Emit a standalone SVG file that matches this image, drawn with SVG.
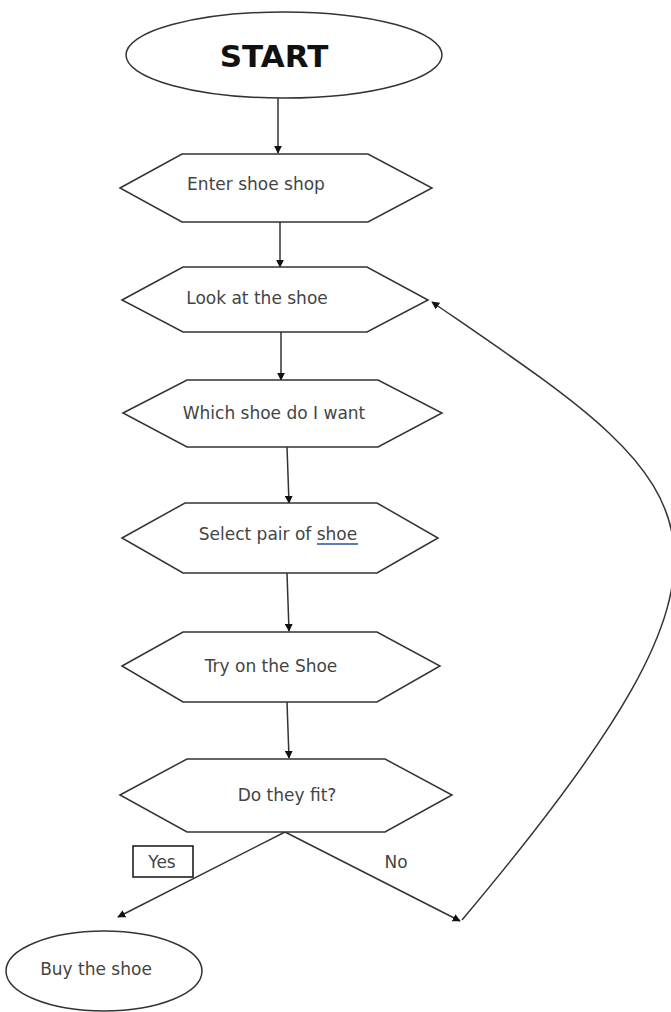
<svg xmlns="http://www.w3.org/2000/svg" width="671" height="1012" viewBox="0 0 671 1012">
<defs>
<style>
.s{fill:#fff;stroke:#333;stroke-width:1.5}
.t{font-family:"DejaVu Sans","Liberation Sans",Arial,sans-serif;font-size:17px;fill:#444;text-anchor:middle}
.c{fill:none;stroke:#333;stroke-width:1.5}
</style>
<marker id="ah" viewBox="0 0 10 10" refX="9" refY="5" markerWidth="8" markerHeight="8" orient="auto" markerUnits="userSpaceOnUse"><path d="M0,0 L10,5 L0,10 z" fill="#111"/></marker>
</defs>
<rect width="671" height="1012" fill="#fff"/>
<g id="connectors">
<line class="c" x1="278" y1="98" x2="278" y2="153" marker-end="url(#ah)"/>
<line class="c" x1="280" y1="222" x2="280" y2="267" marker-end="url(#ah)"/>
<line class="c" x1="281" y1="332" x2="281" y2="380" marker-end="url(#ah)"/>
<line class="c" x1="287" y1="447" x2="289" y2="503" marker-end="url(#ah)"/>
<line class="c" x1="287" y1="573" x2="289" y2="631" marker-end="url(#ah)"/>
<line class="c" x1="287" y1="702" x2="289" y2="758" marker-end="url(#ah)"/>
<line class="c" x1="285" y1="832" x2="118" y2="917" marker-end="url(#ah)"/>
<line class="c" x1="285" y1="832" x2="460" y2="921" marker-end="url(#ah)"/>
<path class="c" d="M462,920 C790,530 705,490 432,302" marker-end="url(#ah)"/>
</g>
<g id="start">
<ellipse class="s" cx="284" cy="55" rx="158" ry="43"/>
<text x="274" y="67" style="font-family:'DejaVu Sans','Liberation Sans',Arial,sans-serif;font-size:31px;font-weight:bold;fill:#111;text-anchor:middle">START</text>
</g>
<g id="enter">
<polygon class="s" points="120,188 182,154 368,154 432,188 368,222 182,222"/>
<text class="t" x="256" y="190">Enter shoe shop</text>
</g>
<g id="look">
<polygon class="s" points="122,300 183,267 367,267 428,300 367,332 183,332"/>
<text class="t" x="257" y="304">Look at the shoe</text>
</g>
<g id="which">
<polygon class="s" points="123,413 187,380 378,380 442,413 378,447 187,447"/>
<text class="t" x="274" y="419">Which shoe do I want</text>
</g>
<g id="select">
<polygon class="s" points="122,538 185,503 377,503 438,538 377,573 183,573"/>
<text class="t" x="278" y="540">Select pair of shoe</text>
<line x1="317" y1="544" x2="358" y2="544" stroke="#2b4f9a" stroke-width="1.5"/>
</g>
<g id="try">
<polygon class="s" points="122,666 183,632 377,632 440,666 377,702 183,702"/>
<text class="t" x="271" y="672">Try on the Shoe</text>
</g>
<g id="fit">
<polygon class="s" points="120,795 187,759 385,759 452,795 385,832 187,832"/>
<text class="t" x="287" y="801">Do they fit?</text>
</g>
<g id="yes">
<rect x="133" y="846" width="60" height="31" fill="#fff" stroke="#111" stroke-width="1.5"/>
<text class="t" x="162" y="868">Yes</text>
</g>
<g id="no">
<text class="t" x="396" y="868">No</text>
</g>
<g id="buy">
<ellipse class="s" cx="104" cy="971" rx="98" ry="40"/>
<text class="t" x="96" y="975">Buy the shoe</text>
</g>
</svg>
